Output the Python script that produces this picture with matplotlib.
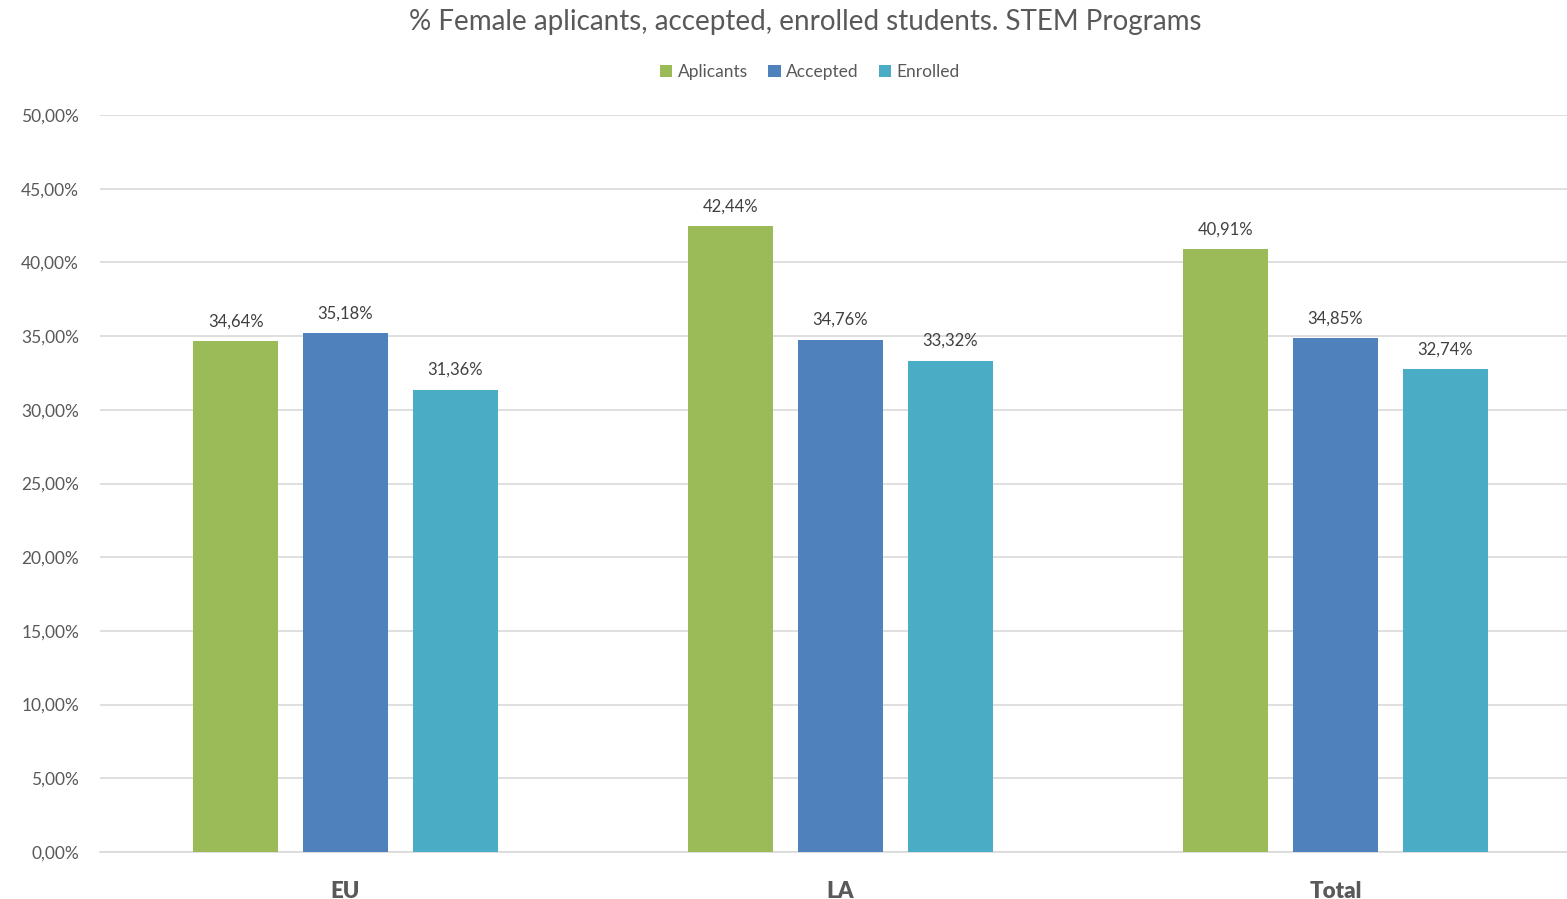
import matplotlib
matplotlib.use('Agg')
import matplotlib.pyplot as plt
import numpy as np
from matplotlib.ticker import FuncFormatter

plt.rcParams['font.family'] = ['Lato', 'DejaVu Sans']

categories = ["EU", "LA", "Total"]
series = ["Aplicants", "Accepted", "Enrolled"]
aplicants = [34.64, 42.44, 40.91]
accepted = [35.18, 34.76, 34.85]
enrolled = [31.36, 33.32, 32.74]
colors = ["#9BBB59", "#4F81BD", "#4BACC6"]


def pct(v):
    return f"{v:.2f}%".replace(".", ",")


fig = plt.figure(figsize=(15.67, 8.99), dpi=100)
ax = fig.add_axes([0.0638, 0.0523, 0.9362, 0.8197])

x = np.arange(len(categories))
w = 0.172
off = 0.222
for i, (vals, name) in enumerate(zip([aplicants, accepted, enrolled], series)):
    bars = ax.bar(x + (i - 1) * off, vals, w, color=colors[i], label=name, zorder=3)
    for b, v in zip(bars, vals):
        ax.text(b.get_x() + b.get_width() / 2, v + 0.8, pct(v), ha='center', va='bottom',
                fontsize=12, color='#404040')

ax.set_xlim(-0.496, 2.4676)
ax.set_ylim(0, 50)
ax.set_yticks(np.arange(0, 51, 5))
ax.yaxis.set_major_formatter(FuncFormatter(lambda v, p: pct(v)))
ax.grid(axis='y', color='#D9D9D9', linewidth=1.2, zorder=0)
for s in ['top', 'right', 'left']:
    ax.spines[s].set_visible(False)
ax.spines['bottom'].set_color('#D9D9D9')
ax.spines['bottom'].set_linewidth(1.2)
ax.tick_params(axis='y', length=0, labelsize=12.5, labelcolor='#595959', pad=15)
ax.tick_params(axis='x', length=0, labelsize=16, labelcolor='#595959', pad=21)
ax.set_xticks(x)
ax.set_xticklabels(categories, fontweight='heavy')

fig.suptitle("% Female aplicants, accepted, enrolled students. STEM Programs",
             x=0.514, y=0.99, va='top', fontsize=20, color='#595959')
ax.legend(loc='upper center', bbox_to_anchor=(0.484, 1.09), ncol=3, frameon=False,
          fontsize=12.5, labelcolor='#595959', handlelength=0.7, handleheight=0.7,
          handletextpad=0.3, columnspacing=1.2)

fig.savefig("out.png", dpi=100)
